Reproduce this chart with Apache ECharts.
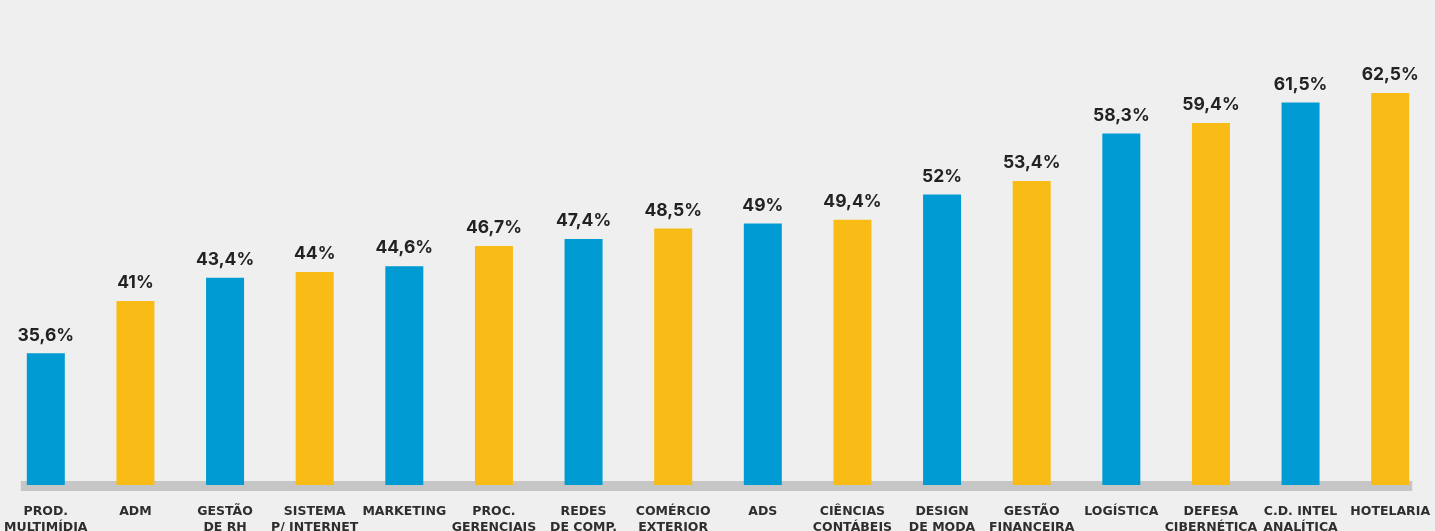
<!DOCTYPE html>
<html>
<head>
<meta charset="utf-8">
<script src="https://cdn.jsdelivr.net/npm/echarts@6/dist/echarts.min.js"></script>
<style>
html,body{margin:0;padding:0;background:#efefef;}
#c{width:1435px;height:531px;}
</style>
</head>
<body>
<div id="c"></div>
<script>
const categories = ["PROD.\nMULTIMÍDIA","ADM","GESTÃO\nDE RH","SISTEMA\nP/ INTERNET","MARKETING","PROC.\nGERENCIAIS","REDES\nDE COMP.","COMÉRCIO\nEXTERIOR","ADS","CIÊNCIAS\nCONTÁBEIS","DESIGN\nDE MODA","GESTÃO\nFINANCEIRA","LOGÍSTICA","DEFESA\nCIBERNÉTICA","C.D. INTEL\nANALÍTICA","HOTELARIA"];
const values = [35.6,41,43.4,44,44.6,46.7,47.4,48.5,49,49.4,52,53.4,58.3,59.4,61.5,62.5];
const palette = ["#009bd2","#f9bc16"];

const chart = echarts.init(document.getElementById('c'), null, {renderer:'canvas'});
const FONT = 'Inter, "Open Sans", sans-serif';
chart.setOption({
  backgroundColor:'#efefef',
  animation:false,
  grid:{left:1,right:0,top:30,bottom:46,containLabel:false,outerBoundsMode:'none'},
  xAxis:{
    type:'category',
    data:categories,
    axisLine:{show:false},
    axisTick:{show:false},
    axisLabel:{interval:0,margin:19,color:'#2e2e2e',fontFamily:'"DejaVu Sans", sans-serif',fontWeight:'bold',fontSize:12.5,lineHeight:16,align:'center'}
  },
  yAxis:{type:'value',min:22,max:69,show:false,splitLine:{show:false}},
  series:[{
    type:'bar',
    barWidth:38,
    z:5,
    data:values.map((v,i)=>({value:v,itemStyle:{color:palette[i%2]}})),
    label:{show:true,position:'top',distance:9,color:'#222',fontFamily:FONT,fontWeight:'bold',fontSize:17.5,
      formatter:p=>String(p.value).replace('.',',')+'%'}
  }]
});
const xl = chart.convertToPixel({xAxisIndex:0},0)-25;
const xr = chart.convertToPixel({xAxisIndex:0},categories.length-1)+22;
const yb = chart.convertToPixel({yAxisIndex:0},22);
chart.setOption({graphic:[{type:'rect',z:0,silent:true,shape:{x:xl,y:yb-4,width:xr-xl,height:10},style:{fill:'#c6c6c6'}}]});
</script>
</body>
</html>
